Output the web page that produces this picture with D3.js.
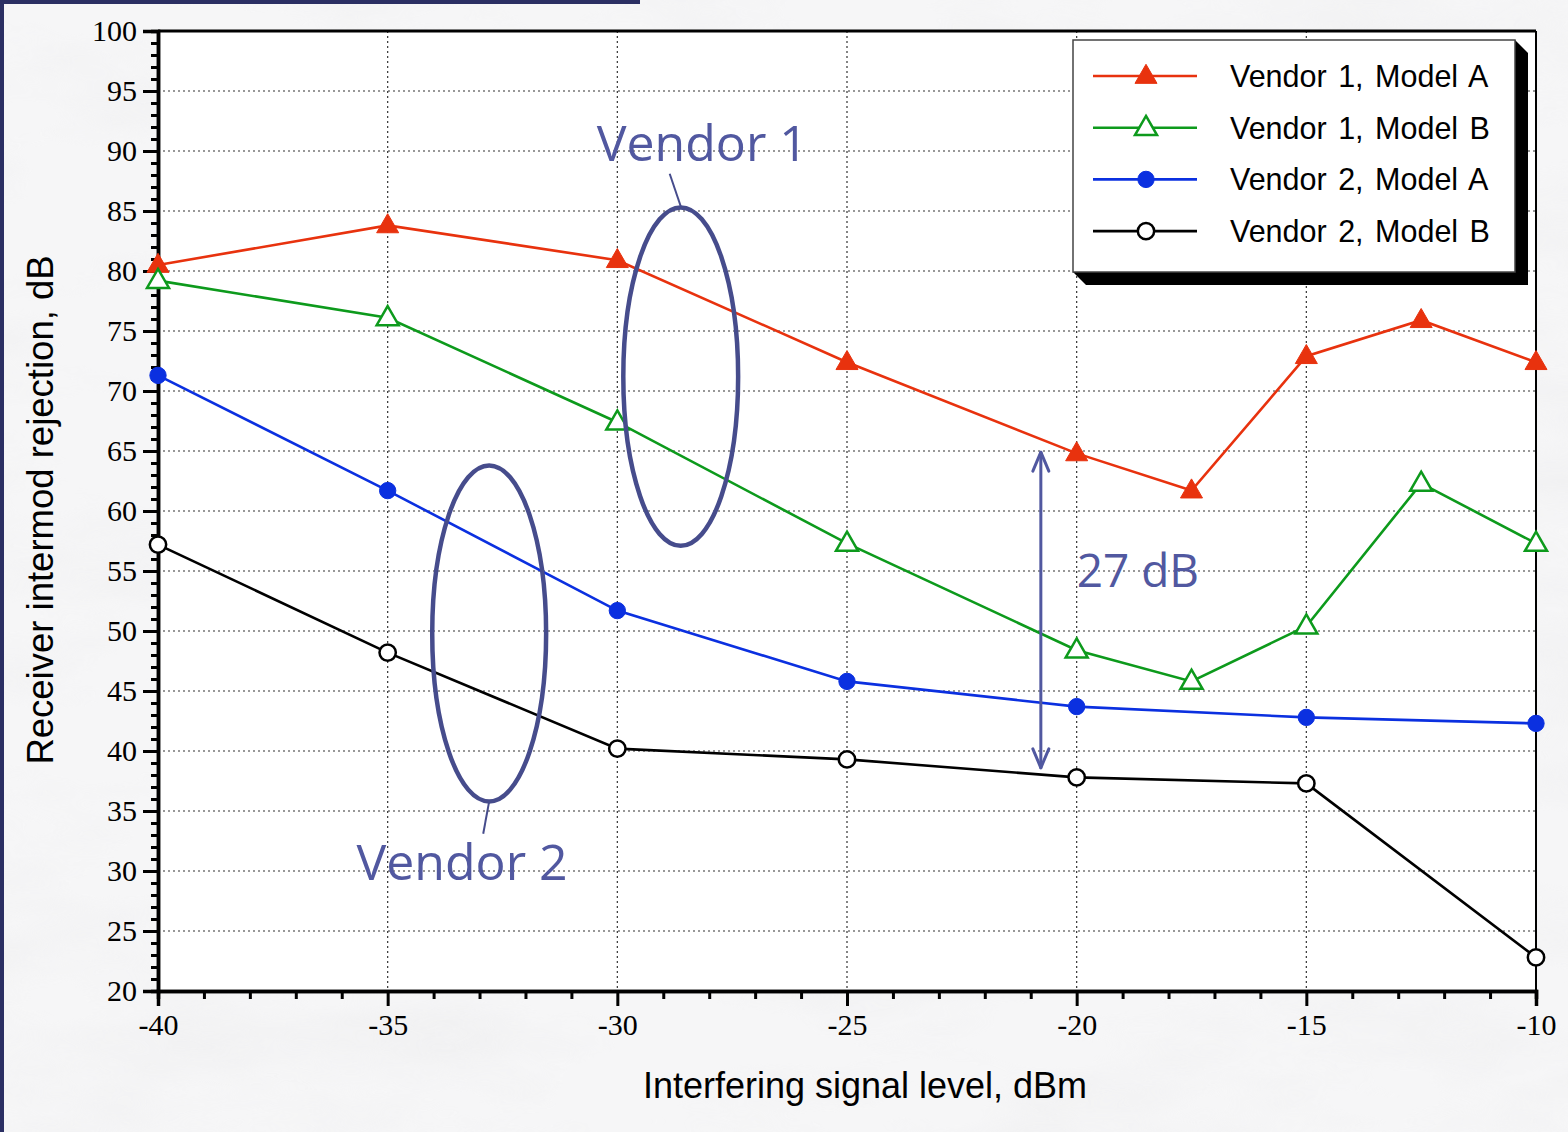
<!DOCTYPE html>
<html>
<head>
<meta charset="utf-8">
<script src="https://cdn.jsdelivr.net/npm/d3@7"></script>
<style>
  html, body { margin: 0; padding: 0; background: #eeeeef; }
  svg { display: block; }
</style>
</head>
<body>
<div class="main"></div>
<script>
//// Data
const xValues = [-40, -35, -30, -25, -20, -17.5, -15, -12.5, -10];
const xValues2 = [-40, -35, -30, -25, -20, -15, -10];

const v1a = [80.5, 83.8, 80.9, 72.4, 64.8, 61.7, 72.9, 75.9, 72.4];
const v1b = [79.2, 76.1, 67.4, 57.3, 48.4, 45.8, 50.4, 62.3, 57.3];
const v2a = [71.3, 61.7, 51.7, 45.8, 43.7, 42.8, 42.3];
const v2b = [57.2, 48.2, 40.2, 39.3, 37.8, 37.3, 22.8];

const seriesNames = ['Vendor 1, Model A', 'Vendor 1, Model B', 'Vendor 2, Model A', 'Vendor 2, Model B'];
const xTicks = [-40, -35, -30, -25, -20, -15, -10];
const yTicks = [20, 25, 30, 35, 40, 45, 50, 55, 60, 65, 70, 75, 80, 85, 90, 95, 100];

//// Global Variables
const width = 1568;
const height = 1132;
const plotLeft = 158, plotRight = 1536, plotTop = 31, plotBottom = 991;
const annoColor = '#5158a0';

const series = [
  { name: seriesNames[0], xs: xValues, ys: v1a, color: '#e8320e', shape: 'tri', fill: '#e8320e' },
  { name: seriesNames[1], xs: xValues, ys: v1b, color: '#0d9a1c', shape: 'tri', fill: '#fff' },
  { name: seriesNames[2], xs: xValues2, ys: v2a, color: '#0b30e0', shape: 'circ', fill: '#0b30e0' },
  { name: seriesNames[3], xs: xValues2, ys: v2b, color: '#000', shape: 'circ', fill: '#fff' }
];

const svg = d3.select('.main').append('svg')
  .attr('width', width)
  .attr('height', height);

// marble-ish background
const defs = svg.append('defs');
const filt = defs.append('filter').attr('id', 'marble').attr('x', 0).attr('y', 0).attr('width', '100%').attr('height', '100%');
filt.append('feTurbulence').attr('type', 'fractalNoise').attr('baseFrequency', '0.004 0.01').attr('numOctaves', 4).attr('seed', 7);
filt.append('feColorMatrix').attr('type', 'matrix')
  .attr('values', '0 0 0 0 0.86  0 0 0 0 0.86  0 0 0 0 0.87  -2.2 0 0 0 1.25');
svg.append('rect').attr('width', width).attr('height', height).attr('fill', '#f6f6f7');
svg.append('rect').attr('width', width).attr('height', height).attr('filter', 'url(#marble)').attr('opacity', 0.7);

// navy edge
svg.append('rect').attr('x', 0).attr('y', 0).attr('width', 4).attr('height', height).attr('fill', '#2b2f63');
svg.append('rect').attr('x', 0).attr('y', 0).attr('width', 640).attr('height', 4).attr('fill', '#2b2f63');

const xScale = d3.scaleLinear().domain([-40, -10]).range([plotLeft, plotRight]);
const yScale = d3.scaleLinear().domain([20, 100]).range([plotBottom, plotTop]);

// plot area
svg.append('rect')
  .attr('x', plotLeft).attr('y', plotTop)
  .attr('width', plotRight - plotLeft).attr('height', plotBottom - plotTop)
  .attr('fill', '#fff');

// grid
svg.append('g').selectAll('line')
  .data(yTicks.slice(1, -1))
  .enter().append('line')
  .attr('x1', plotLeft).attr('x2', plotRight)
  .attr('y1', d => yScale(d)).attr('y2', d => yScale(d))
  .attr('stroke', '#333').attr('stroke-width', 1.2).attr('stroke-dasharray', '2,3');
svg.append('g').selectAll('line')
  .data(xTicks.slice(1, -1))
  .enter().append('line')
  .attr('y1', plotTop).attr('y2', plotBottom)
  .attr('x1', d => xScale(d)).attr('x2', d => xScale(d))
  .attr('stroke', '#333').attr('stroke-width', 1.2).attr('stroke-dasharray', '2,3');

// frame top/right
svg.append('line').attr('x1', plotLeft).attr('x2', plotRight).attr('y1', plotTop).attr('y2', plotTop)
  .attr('stroke', '#000').attr('stroke-width', 3);
svg.append('line').attr('x1', plotRight).attr('x2', plotRight).attr('y1', plotTop).attr('y2', plotBottom)
  .attr('stroke', '#000').attr('stroke-width', 2);

// axes
const minorX = d3.range(-40, -9, 1).filter(d => d % 5 !== 0);
const minorY = d3.range(20, 101, 1).filter(d => d % 5 !== 0);

const xAxis = d3.axisBottom(xScale).tickValues(xTicks).tickSize(15).tickPadding(8).tickFormat(d => String(d));
const xAxisMinor = d3.axisBottom(xScale).tickValues(minorX).tickSize(8).tickFormat('');
const yAxis = d3.axisLeft(yScale).tickValues(yTicks).tickSize(15).tickPadding(6).tickFormat(d => String(d));
const yAxisMinor = d3.axisLeft(yScale).tickValues(minorY).tickSize(7).tickFormat('');

function styleAxis(g) {
  g.select('.domain').attr('stroke-width', 3.5);
  g.selectAll('.tick line').attr('stroke-width', 3);
  g.selectAll('.tick text')
    .attr('font-family', '"Liberation Serif", "Times New Roman", serif')
    .attr('font-size', 30)
    .attr('fill', '#000');
}

svg.append('g').attr('transform', `translate(0, ${plotBottom})`).call(xAxisMinor).call(styleAxis);
svg.append('g').attr('id', 'x-axis').attr('transform', `translate(0, ${plotBottom})`).call(xAxis).call(styleAxis);
svg.append('g').attr('transform', `translate(${plotLeft}, 0)`).call(yAxisMinor).call(styleAxis);
svg.append('g').attr('id', 'y-axis').attr('transform', `translate(${plotLeft}, 0)`).call(yAxis).call(styleAxis);

// axis titles
svg.append('text')
  .attr('x', 865).attr('y', 1098)
  .attr('text-anchor', 'middle')
  .attr('font-family', '"Liberation Sans", Arial, sans-serif')
  .attr('font-size', 36)
  .text('Interfering signal level, dBm');
svg.append('text')
  .attr('transform', 'translate(53, 510) rotate(-90)')
  .attr('text-anchor', 'middle')
  .attr('font-family', '"Liberation Sans", Arial, sans-serif')
  .attr('font-size', 36.5)
  .text('Receiver intermod rejection, dB');

// lines and markers
const triangle = d3.symbol().type(d3.symbolTriangle).size(210);
const circle = d3.symbol().type(d3.symbolCircle).size(210);

function drawMarker(g, s, x, y) {
  g.append('path')
    .attr('d', s.shape === 'tri' ? triangle() : circle())
    .attr('transform', `translate(${x}, ${y + (s.shape === 'tri' ? 1 : 0)})`)
    .attr('fill', s.fill)
    .attr('stroke', s.color)
    .attr('stroke-width', s.fill === '#fff' ? 2.5 : 1);
}

series.forEach(s => {
  const pts = s.xs.map((x, i) => [x, s.ys[i]]);
  const line = d3.line().x(d => xScale(d[0])).y(d => yScale(d[1]));
  svg.append('path')
    .datum(pts)
    .attr('d', line)
    .attr('fill', 'none')
    .attr('stroke', s.color)
    .attr('stroke-width', 2.6);
  const g = svg.append('g');
  pts.forEach(p => drawMarker(g, s, xScale(p[0]), yScale(p[1])));
});

// annotations (data coords)
const ellipses = [
  { cx: -28.62, cy: 71.2, rx: 1.25, ry: 14.1, lead: [[-28.86, 88.1], [-28.62, 85.4]] },
  { cx: -32.79, cy: 49.8, rx: 1.24, ry: 14.0, lead: [[-32.79, 35.8], [-32.92, 33.1]] }
];
ellipses.forEach(e => {
  svg.append('ellipse')
    .attr('cx', xScale(e.cx)).attr('cy', yScale(e.cy))
    .attr('rx', xScale(e.cx + e.rx) - xScale(e.cx))
    .attr('ry', yScale(e.cy - e.ry) - yScale(e.cy))
    .attr('fill', 'none').attr('stroke', '#464c8c').attr('stroke-width', 4.5);
  svg.append('line')
    .attr('x1', xScale(e.lead[0][0])).attr('y1', yScale(e.lead[0][1]))
    .attr('x2', xScale(e.lead[1][0])).attr('y2', yScale(e.lead[1][1]))
    .attr('stroke', '#464c8c').attr('stroke-width', 2);
});

const labels = [
  { x: -30.45, y: 89.2, text: 'Vendor 1', size: 50 },
  { x: -35.68, y: 29.25, text: 'Vendor 2', size: 50 },
  { x: -20.0, y: 53.7, text: '27 dB', size: 46 }
];
labels.forEach(l => {
  svg.append('text')
    .attr('x', xScale(l.x)).attr('y', yScale(l.y))
    .attr('font-family', '"Open Sans", "DejaVu Sans", sans-serif')
    .attr('font-size', l.size)
    .attr('fill', annoColor)
    .text(l.text);
});

// 27 dB double arrow
const ax = xScale(-20.78), ay1 = yScale(64.9), ay2 = yScale(38.6);
const arrow = svg.append('g').attr('stroke', annoColor).attr('stroke-width', 3).attr('fill', 'none')
  .attr('stroke-linecap', 'round').attr('stroke-linejoin', 'round');
arrow.append('line').attr('x1', ax).attr('x2', ax).attr('y1', ay1).attr('y2', ay2);
arrow.append('path').attr('d', `M${ax - 8},${ay1 + 19} L${ax},${ay1} L${ax + 8},${ay1 + 19}`);
arrow.append('path').attr('d', `M${ax - 8},${ay2 - 19} L${ax},${ay2} L${ax + 8},${ay2 - 19}`);

// legend with 3D shadow
const lx = 1073, ly = 40, lw = 442, lh = 232, dd = 13;
svg.append('path')
  .attr('d', `M${lx},${ly + lh} L${lx + dd},${ly + lh + dd} L${lx + lw + dd},${ly + lh + dd} L${lx + lw + dd},${ly + dd} L${lx + lw},${ly} Z`)
  .attr('fill', '#000');
svg.append('rect')
  .attr('x', lx).attr('y', ly).attr('width', lw).attr('height', lh)
  .attr('fill', '#fff').attr('stroke', '#444').attr('stroke-width', 1.5);

const legend = svg.append('g');
series.forEach((s, i) => {
  const yy = 76 + i * 51.7;
  legend.append('line')
    .attr('x1', 1093).attr('x2', 1197).attr('y1', yy).attr('y2', yy)
    .attr('stroke', s.color).attr('stroke-width', 2.6);
  drawMarker(legend, s, 1146, yy);
  legend.append('text')
    .attr('x', 1230).attr('y', yy + 11)
    .attr('font-family', '"Liberation Sans", Arial, sans-serif')
    .attr('font-size', 30.5)
    .attr('word-spacing', 3)
    .text(s.name);
});
</script>
</body>
</html>
